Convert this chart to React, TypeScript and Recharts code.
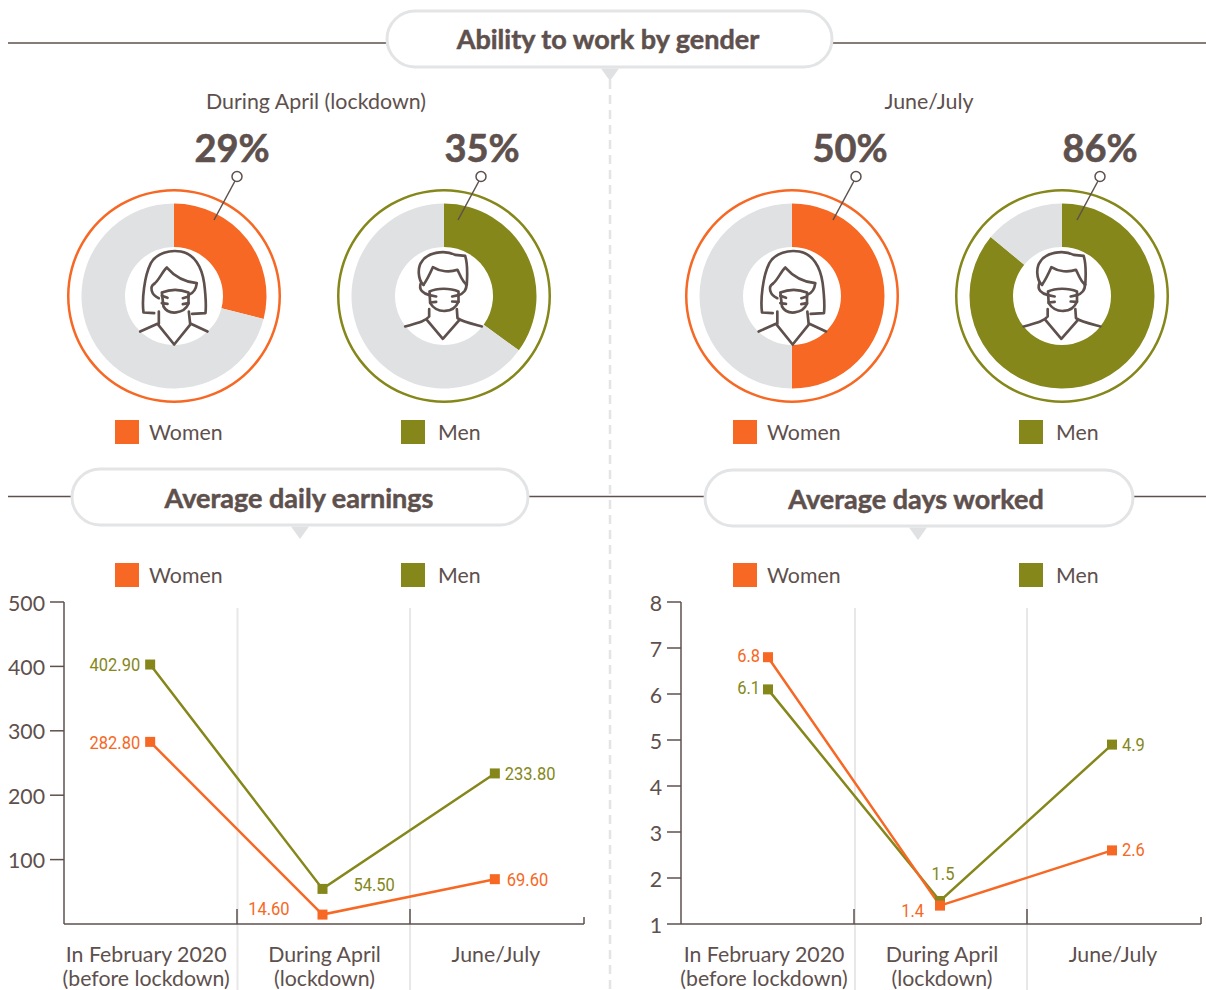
import { Pie, PieChart, Line, LineChart, XAxis, YAxis } from 'recharts';

const ORANGE = '#F66824';
const OLIVE = '#85871A';
const GRAY = '#E0E1E3';
const INK = '#5E504D';
const FONT = 'Lato, sans-serif';
const CHART_TOP = 570;

// ability to work, percent
const abilityValues = [29, 35, 50, 86];
const abilityGenders = ['Women', 'Men', 'Women', 'Men'];

const categories = ['In February 2020 (before lockdown)', 'During April (lockdown)', 'June/July'];
const categoryLines = [
  ['In February 2020', '(before lockdown)'],
  ['During April', '(lockdown)'],
  ['June/July'],
];

const earningsWomen = [282.8, 14.6, 69.6];
const earningsMen = [402.9, 54.5, 233.8];
const earningsTicks = [100, 200, 300, 400, 500];

const daysWomen = [6.8, 1.4, 2.6];
const daysMen = [6.1, 1.5, 4.9];
const daysTicks = [1, 2, 3, 4, 5, 6, 7, 8];

const earningsData = categories.map((name, i) => ({ name, women: earningsWomen[i], men: earningsMen[i] }));
const daysData = categories.map((name, i) => ({ name, women: daysWomen[i], men: daysMen[i] }));

// where the value labels sit relative to their marker: [dx, dy, anchor]
type Place = [number, number, string];
const earningsWomenPlaces: Place[] = [[-10, 1, 'end'], [-33, -6, 'end'], [12, 0, 'start']];
const earningsMenPlaces: Place[] = [[-10, 0, 'end'], [31, -4, 'start'], [10, 0, 'start']];
const daysWomenPlaces: Place[] = [[-8, -2, 'end'], [-16, 5, 'end'], [10, -1, 'start']];
const daysMenPlaces: Place[] = [[-8, -2, 'end'], [3, -27, 'middle'], [10, 0, 'start']];

const donutX = [173.5, 443.5, 792, 1062];
const donutY = 295.5;
const calloutX = [237, 481, 856, 1100];
const percentX = [232, 482, 850, 1100];

const squareDot = (color: string) => (props: any) => (
  <rect key={props.index} x={props.cx - 5} y={props.cy - 5} width={10} height={10} fill={color} />
);

// no condensed face is installed, so squeeze Roboto sideways
const valueLabel = (color: string, places: Place[], digits: number) => (props: any) => {
  const [dx, dy, anchor] = places[props.index];
  return (
    <text
      key={props.index}
      transform={`translate(${props.x + dx},${props.y + dy}) scale(0.89,1)`}
      fill={color}
      fontFamily="Roboto, sans-serif"
      fontSize={18.5}
      textAnchor={anchor as any}
      dominantBaseline="central"
    >
      {Number(props.value).toFixed(digits)}
    </text>
  );
};

const CategoryTick = (props: any) => {
  const lines = categoryLines[props.index] ?? [];
  const shift = [-4, 2, 1][props.index] ?? 0;
  return (
    <text x={props.x + shift} textAnchor="middle" fill={INK} fontFamily={FONT} fontSize={21.3}>
      {lines.map((t: string, i: number) => (
        <tspan key={t} x={props.x + shift} y={962 - CHART_TOP + i * 24}>
          {t}
        </tspan>
      ))}
    </text>
  );
};

const ValueTick = (props: any) => (
  <text
    x={props.x}
    y={props.y + 0.5}
    textAnchor="end"
    dominantBaseline="central"
    fill={INK}
    fontFamily={FONT}
    fontSize={21.3}
  >
    {props.payload.value}
  </text>
);

function Trend({ left, data, ticks, domain, womenPlaces, menPlaces, digits, padding }: any) {
  return (
    <div style={{ position: 'absolute', left, top: CHART_TOP }}>
      <LineChart width={589} height={420} data={data} margin={{ top: 32, right: 5, bottom: 0, left: 0 }}>
        <XAxis
          dataKey="name"
          scale="band"
          interval={0}
          height={66}
          padding={padding}
          tick={<CategoryTick />}
          tickLine={false}
          axisLine={{ stroke: INK, strokeWidth: 1.5 }}
        />
        <YAxis
          width={64}
          domain={domain}
          ticks={ticks}
          interval={0}
          tickSize={14}
          tickMargin={5}
          tick={<ValueTick />}
          tickLine={{ stroke: INK, strokeWidth: 1.5 }}
          axisLine={{ stroke: INK, strokeWidth: 1.5 }}
        />
        <Line
          dataKey="men"
          stroke={OLIVE}
          strokeWidth={2.5}
          dot={squareDot(OLIVE)}
          label={valueLabel(OLIVE, menPlaces, digits)}
          isAnimationActive={false}
        />
        <Line
          dataKey="women"
          stroke={ORANGE}
          strokeWidth={2.5}
          dot={squareDot(ORANGE)}
          label={valueLabel(ORANGE, womenPlaces, digits)}
          isAnimationActive={false}
        />
      </LineChart>
    </div>
  );
}

function Donut({ cx, value, gender }: { cx: number; value: number; gender: string }) {
  const color = gender === 'Women' ? ORANGE : OLIVE;
  const slices = [
    { name: gender, value, fill: color },
    { name: 'Rest', value: 100 - value, fill: GRAY },
  ];
  return (
    <div style={{ position: 'absolute', left: cx - 115, top: donutY - 115 }}>
      <PieChart width={230} height={230} margin={{ top: 0, right: 0, bottom: 0, left: 0 }}>
        <Pie
          data={[{ name: 'ring', value: 1, fill: color }]}
          dataKey="value"
          cx={115}
          cy={115}
          innerRadius={104.5}
          outerRadius={107}
          stroke="none"
          isAnimationActive={false}
        />
        <Pie
          data={slices}
          dataKey="value"
          cx={115}
          cy={115}
          innerRadius={49}
          outerRadius={92.5}
          startAngle={90}
          endAngle={-270}
          stroke="none"
          isAnimationActive={false}
        />
      </PieChart>
    </div>
  );
}

function WomanIcon({ cx }: { cx: number }) {
  return (
    <g
      transform={`translate(${cx},${donutY}) scale(0.3333) translate(-340,-527)`}
      fill="none"
      stroke={INK}
      strokeWidth={8}
      strokeLinecap="round"
      strokeLinejoin="round"
    >
      <path d="M282 580 L250 578 C245 540 252 470 272 430 C290 398 330 390 362 395 C402 402 425 440 432 490 C437 530 438 560 436 580 L396 582" />
      <path d="M282 492 C296 482 306 456 320 443 C340 466 372 486 410 490 C408 505 400 520 386 525" />
      <path d="M282 492 C268 500 272 525 296 535" />
      <path d="M305 518 C330 508 360 508 385 518 L385 552 C372 582 325 588 310 560 Z" />
      <path d="M305 528 L322 534 M305 550 L322 552 M385 530 L368 535 M385 550 L368 553" />
      <path d="M240 635 L292 612 L342 674 L392 612 L442 635" />
      <path d="M296 575 L296 612 M386 575 L390 612" />
    </g>
  );
}

function ManIcon({ cx }: { cx: number }) {
  return (
    <g
      transform={`translate(${cx},${donutY}) scale(0.3333) translate(-340,-437)`}
      fill="none"
      stroke={INK}
      strokeWidth={8}
      strokeLinecap="round"
      strokeLinejoin="round"
    >
      <path d="M280 405 C262 390 262 350 275 335 C290 310 340 298 375 315 L405 318 C412 340 412 370 410 402" />
      <path d="M280 405 C290 390 300 370 308 352 C330 366 360 368 382 360 C390 375 395 395 410 405" />
      <path d="M272 400 C264 420 280 432 298 436 M408 402 C412 420 398 432 385 436" />
      <path d="M298 425 C320 414 360 414 385 425 L385 455 C370 492 320 492 300 460 Z" />
      <path d="M298 436 L318 440 M300 458 L318 456 M385 436 L366 440 M385 456 L366 455" />
      <path d="M225 530 C260 520 285 515 297 500 L297 478 M380 478 L382 505 C395 515 425 522 455 530" />
      <path d="M290 510 L338 567 L388 510" />
    </g>
  );
}

function TitlePill({ x, y, w, label, textX, arrowX, textY }: any) {
  return (
    <g>
      <rect x={x} y={y} width={w} height={56} rx={28} fill="#fff" stroke="#E3E4E5" strokeWidth={3} />
      <path d={`M${arrowX - 9} ${y + 57.5} L${arrowX + 9} ${y + 57.5} L${arrowX} ${y + 70} Z`} fill="#E0E1E3" />
      <text
        x={textX}
        y={textY}
        textAnchor="middle"
        dominantBaseline="central"
        fontFamily={FONT}
        fontWeight={700}
        fontSize={27}
        fill={INK}
        stroke={INK}
        strokeWidth={0.5}
      >
        {label}
      </text>
    </g>
  );
}

function LegendRow({ y, xs }: { y: number; xs: number[][] }) {
  const labels = ['Women', 'Men'];
  return (
    <g>
      {xs.map(([sx, tx], i) => (
        <g key={sx}>
          <rect x={sx} y={y - 12} width={24} height={24} fill={i % 2 === 0 ? ORANGE : OLIVE} />
          <text x={tx} y={y} dominantBaseline="central" fontFamily={FONT} fontSize={21.3} fill={INK}>
            {labels[i % 2]}
          </text>
        </g>
      ))}
    </g>
  );
}

const layer: React.CSSProperties = { position: 'absolute', left: 0, top: 0 };

export default function App() {
  return (
    <div style={{ position: 'absolute', left: 0, top: 0, width: 1206, height: 990, overflow: 'hidden', background: '#fff' }}>
      <svg width={1206} height={990} style={layer}>
        {/* rules behind the title pills */}
        <path d="M8 43 H1206 M8 496.5 H1206" stroke={INK} strokeWidth={1.3} />
        <line x1={610} y1={80} x2={610} y2={990} stroke="#E3E4E5" strokeWidth={2.5} strokeDasharray="9 6" />
        {/* band separators */}
        {[237.5, 410, 855, 1027].map((x) => (
          <line key={x} x1={x} y1={608} x2={x} y2={990} stroke="#E8E8E9" strokeWidth={2} />
        ))}
        <TitlePill x={387} y={11} w={445} label="Ability to work by gender" textX={608} textY={38.5} arrowX={610} />
        <TitlePill x={72} y={469} w={456} label="Average daily earnings" textX={299} textY={497} arrowX={300} />
        <TitlePill x={705} y={470} w={428} label="Average days worked" textX={916} textY={498.5} arrowX={918} />
        <text x={316} y={101} textAnchor="middle" dominantBaseline="central" fontFamily={FONT} fontSize={21.4} fill={INK}>
          During April (lockdown)
        </text>
        <text x={929} y={101} textAnchor="middle" dominantBaseline="central" fontFamily={FONT} fontSize={21.4} fill={INK}>
          June/July
        </text>
      </svg>

      {abilityValues.map((v, i) => (
        <Donut key={i} cx={donutX[i]} value={v} gender={abilityGenders[i]} />
      ))}

      <Trend
        left={0}
        data={earningsData}
        ticks={earningsTicks}
        domain={[0, 500]}
        womenPlaces={earningsWomenPlaces}
        menPlaces={earningsMenPlaces}
        digits={2}
        padding={{ left: 0, right: 3 }}
      />
      <Trend
        left={617}
        data={daysData}
        ticks={daysTicks}
        domain={[1, 8]}
        womenPlaces={daysWomenPlaces}
        menPlaces={daysMenPlaces}
        digits={1}
        padding={{ left: 1, right: 3 }}
      />

      <svg width={1206} height={990} style={{ ...layer, pointerEvents: 'none' }}>
        {abilityValues.map((v, i) => (
          <g key={i}>
            <text
              x={percentX[i]}
              y={147}
              textAnchor="middle"
              dominantBaseline="central"
              fontFamily={FONT}
              fontWeight={700}
              fontSize={38}
              fill={INK}
              stroke={INK}
              strokeWidth={0.6}
            >
              {v}%
            </text>
            <line x1={calloutX[i] - 2} y1={181} x2={calloutX[i] - 23} y2={220} stroke={INK} strokeWidth={1.5} />
            <circle cx={calloutX[i]} cy={176.5} r={5} fill="#fff" stroke={INK} strokeWidth={1.5} />
            {abilityGenders[i] === 'Women' ? <WomanIcon cx={donutX[i]} /> : <ManIcon cx={donutX[i]} />}
          </g>
        ))}
        <LegendRow y={432} xs={[[115, 149], [401, 438], [733, 767], [1019, 1056]]} />
        <LegendRow y={575} xs={[[115, 149], [401, 438], [733, 767], [1019, 1056]]} />
        {/* axis notches at the band edges */}
        {[237, 410, 854, 1027].map((x) => (
          <line key={x} x1={x} y1={909} x2={x} y2={924} stroke={INK} strokeWidth={1.5} />
        ))}
        {[584, 1201].map((x) => (
          <line key={x} x1={x} y1={917} x2={x} y2={924} stroke={INK} strokeWidth={1.5} />
        ))}
      </svg>
    </div>
  );
}
